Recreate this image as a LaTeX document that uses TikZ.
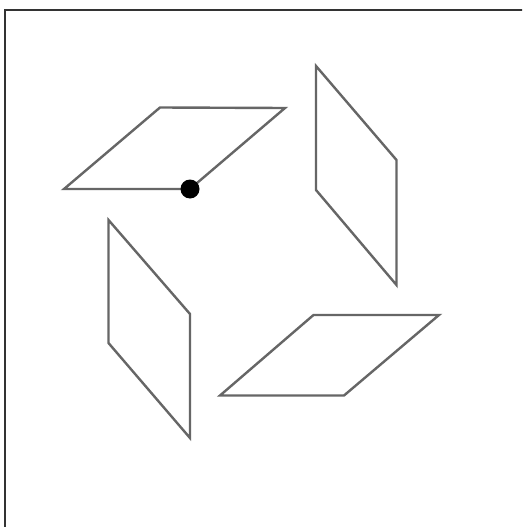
\documentclass[tikz,border=0pt]{standalone}
\begin{document}
\begin{tikzpicture}[x=1pt,y=-1pt,
  frame/.style={draw=black!80,line width=1.8pt},
  para/.style={draw=black!60,line width=2.4pt,line join=miter},
  dotmark/.style={fill=black}]
\useasboundingbox (0,0) rectangle (522,527);
\clip (0,0) rectangle (522,527);
\fill[white] (0,0) rectangle (522,527);
\draw[frame] (5,10) rectangle (540,545);
% top-left
\draw[para] (64,189) -- (160,107.5) -- (285,108) -- (190,189) -- cycle;
% top-right
\draw[para] (316,66) -- (396.5,160) -- (396.5,285) -- (316,190) -- cycle;
% bottom-left
\draw[para] (108.5,220) -- (190,314) -- (190,438) -- (108.5,343) -- cycle;
% bottom-right
\draw[para] (313.5,315) -- (439,315) -- (344,395.5) -- (220,395.5) -- cycle;
\fill[dotmark] (190,189) circle (9.5);
\end{tikzpicture}
\end{document}
